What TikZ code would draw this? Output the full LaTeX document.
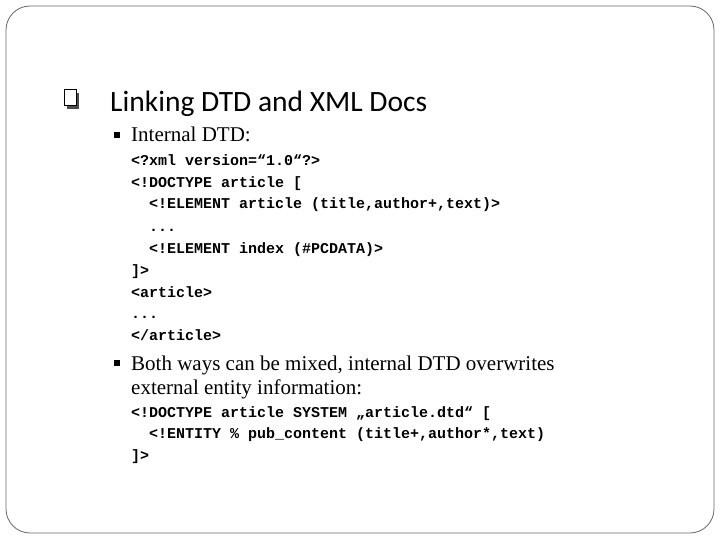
\documentclass[tikz,border=0pt]{standalone}
\usepackage{fontspec}
\setmainfont{Liberation Serif}
\newfontfamily\titlefont{Carlito}
\newfontfamily\codefont{Liberation Mono}
\begin{document}
\begin{tikzpicture}[x=1pt,y=-1pt,
    frame/.style={draw=black!60,line width=0.8pt,rounded corners=24pt},
    title/.style={anchor=base west,inner sep=0pt,font=\titlefont\fontsize{29.5}{34}\selectfont},
    body/.style={anchor=base west,inner sep=0pt,font=\fontsize{21}{25}\selectfont},
    code/.style={anchor=base west,inner sep=0pt,font=\codefont\bfseries\fontsize{15}{18}\selectfont},
    dot/.style={fill=black,minimum size=6pt,inner sep=0pt},
  ]
  \useasboundingbox (0,0) rectangle (720,540);
  \draw[frame] (6,6) rectangle (714,533);
  % title bullet
  \fill[black!70] (67,93) rectangle (79,109);
  \draw[black,line width=1pt,fill=white] (64,90) rectangle (76,106);
  \node[title] (head) at (110,112) {Linking DTD and XML Docs};
  % internal DTD
  \node[dot] (b1) at (117,135) {};
  \node[body] (t1) at (131,142) {Internal DTD:};
  \foreach \y/\txt in {166/{<?xml version=“1.0“?>}, 188/{<!DOCTYPE article [},
      275/{]>}, 297/{<article>}, 318/{...}, 340/{</article>}}
    \node[code] at (131,\y) {\txt};
  \foreach \y/\txt in {209/{<!ELEMENT article (title,author+,text)>},
      231/{...}, 253/{<!ELEMENT index (\#PCDATA)>}}
    \node[code] at (149,\y) {\txt};
  % mixed
  \node[dot] (b2) at (117,363) {};
  \node[body] (t2) at (131,370) {Both ways can be mixed, internal DTD overwrites};
  \node[body] (t3) at (131,394) {external entity information:};
  \node[code] (c1) at (131,417) {<!DOCTYPE article SYSTEM „article.dtd“ [};
  \node[code] (c2) at (149,438) {<!ENTITY \% pub\_content (title+,author*,text)};
  \node[code] (c3) at (131,460) {]>};
\end{tikzpicture}
\end{document}
